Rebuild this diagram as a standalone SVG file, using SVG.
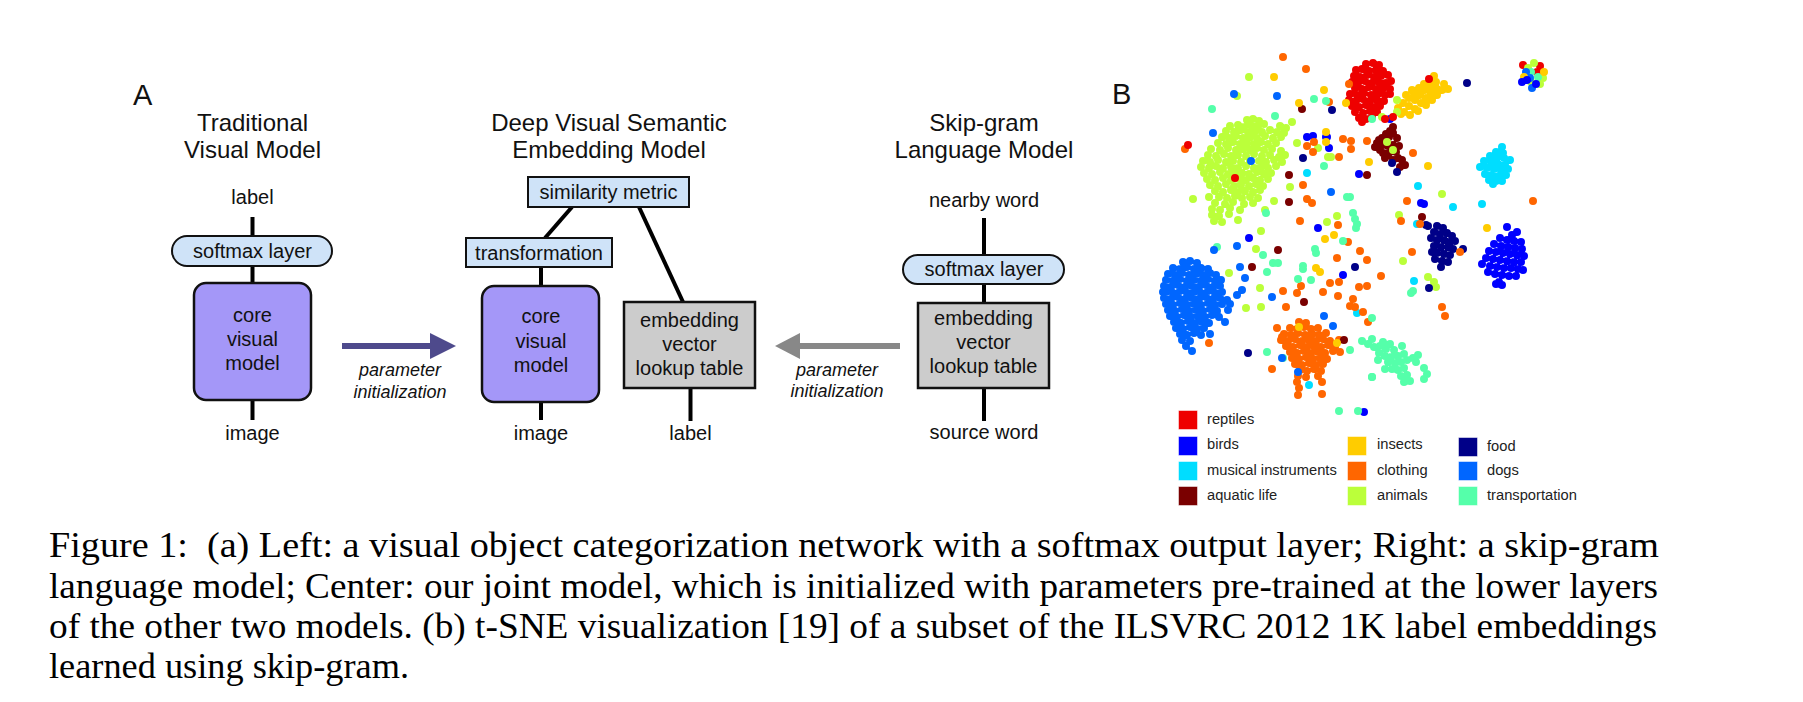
<svg xmlns="http://www.w3.org/2000/svg" width="1803" height="702" viewBox="0 0 1803 702">
<style>
text { font-family: "Liberation Sans", Arial, Helvetica, sans-serif; fill: #111; }
.t { font-size: 24px; text-anchor: middle; }
.l { font-size: 20px; text-anchor: middle; }
.p { font-size: 18px; font-style: italic; text-anchor: middle; }
.panel { font-size: 29px; }
.lg { font-size: 14.7px; fill: #222; }
.cap { font-family: "Liberation Serif", "Times New Roman", serif; font-size: 36px; fill: #000; }
.pill, .lb { fill: #cfe3f8; stroke: #111; stroke-width: 2; }
.core { fill: #a497f8; stroke: #111; stroke-width: 2.5; }
.emb { fill: #cccccc; stroke: #111; stroke-width: 2.5; }
.wire { stroke: #000; stroke-width: 4; fill: none; }
.dots path { fill: none; stroke-width: 8; stroke-linecap: round; }
.sq { stroke-width: 1; stroke-opacity: 0.5; }
.rp { fill: #ee0000; stroke: #ee0000; }
.bd { fill: #0000ff; stroke: #0000ff; }
.mu { fill: #00ddff; stroke: #00ddff; }
.aq { fill: #7a0000; stroke: #7a0000; }
.in { fill: #ffcc00; stroke: #ffcc00; }
.cl { fill: #ff6600; stroke: #ff6600; }
.an { fill: #bbff3a; stroke: #bbff3a; }
.fo { fill: #000088; stroke: #000088; }
.dg { fill: #0066ff; stroke: #0066ff; }
.tr { fill: #55ffaa; stroke: #55ffaa; }
.dots path.rp, .dots path.bd, .dots path.mu, .dots path.aq, .dots path.in, .dots path.cl, .dots path.an, .dots path.fo, .dots path.dg, .dots path.tr { fill: none; }
</style>

<text class="panel" x="133" y="105">A</text>
<text class="panel" x="1112" y="104">B</text>

<!-- connectors -->
<g id="connectors">
  <line class="wire" x1="252.5" y1="217" x2="252.5" y2="236"/>
  <line class="wire" x1="252.5" y1="266" x2="252.5" y2="283"/>
  <line class="wire" x1="252.5" y1="400" x2="252.5" y2="420"/>
  <line class="wire" x1="572" y1="207" x2="545" y2="238"/>
  <line class="wire" x1="541" y1="267" x2="541" y2="286"/>
  <line class="wire" x1="541" y1="402" x2="541" y2="420"/>
  <line class="wire" x1="639" y1="207" x2="683" y2="302"/>
  <line class="wire" x1="690.5" y1="388" x2="690.5" y2="421"/>
  <line class="wire" x1="984" y1="218" x2="984" y2="255"/>
  <line class="wire" x1="984" y1="284" x2="984" y2="303"/>
  <line class="wire" x1="984" y1="388" x2="984" y2="421"/>
  <g id="arrow-left">
    <line x1="342" y1="346" x2="432" y2="346" stroke="#4e4a8c" stroke-width="6"/>
    <polygon points="430,333 456,346 430,359" fill="#4e4a8c"/>
  </g>
  <g id="arrow-right">
    <line x1="900" y1="346" x2="798" y2="346" stroke="#888888" stroke-width="6"/>
    <polygon points="800,333 775,346 800,359" fill="#888888"/>
  </g>
</g>

<!-- left model -->
<g id="title-traditional">
  <text class="t" x="252.5" y="131">Traditional</text>
  <text class="t" x="252.5" y="158">Visual Model</text>
</g>
<g id="left-label"><text class="l" x="252.5" y="204">label</text></g>
<g id="left-softmax">
  <rect class="pill" x="172" y="236" width="160" height="30" rx="15"/>
  <text class="l" x="252.5" y="258">softmax layer</text>
</g>
<g id="left-core">
  <rect class="core" x="194" y="283" width="117" height="117" rx="12"/>
  <text class="l" x="252.5" y="322">core</text>
  <text class="l" x="252.5" y="346">visual</text>
  <text class="l" x="252.5" y="370">model</text>
</g>
<g id="left-image"><text class="l" x="252.5" y="440">image</text></g>
<g id="left-param">
  <text class="p" x="400" y="376">parameter</text>
  <text class="p" x="400" y="398">initialization</text>
</g>

<!-- center model -->
<g id="title-devise">
  <text class="t" x="609" y="131">Deep Visual Semantic</text>
  <text class="t" x="609" y="158">Embedding Model</text>
</g>
<g id="similarity">
  <rect class="lb" x="528" y="177" width="161" height="30"/>
  <text class="l" x="608.5" y="199">similarity metric</text>
</g>
<g id="transformation">
  <rect class="lb" x="466" y="238" width="146" height="29"/>
  <text class="l" x="539" y="260">transformation</text>
</g>
<g id="center-core">
  <rect class="core" x="482" y="286" width="117" height="116" rx="12"/>
  <text class="l" x="541" y="323">core</text>
  <text class="l" x="541" y="348">visual</text>
  <text class="l" x="541" y="372">model</text>
</g>
<g id="center-image"><text class="l" x="541" y="440">image</text></g>
<g id="center-embedding">
  <rect class="emb" x="624" y="302" width="131" height="86"/>
  <text class="l" x="689.5" y="327">embedding</text>
  <text class="l" x="689.5" y="351">vector</text>
  <text class="l" x="689.5" y="375">lookup table</text>
</g>
<g id="center-label"><text class="l" x="690.5" y="440">label</text></g>

<!-- right model -->
<g id="title-skipgram">
  <text class="t" x="984" y="131">Skip-gram</text>
  <text class="t" x="984" y="158">Language Model</text>
</g>
<g id="right-nearby"><text class="l" x="984" y="207">nearby word</text></g>
<g id="right-softmax">
  <rect class="pill" x="903" y="255" width="161" height="29" rx="14.5"/>
  <text class="l" x="984" y="276">softmax layer</text>
</g>
<g id="right-embedding">
  <rect class="emb" x="918" y="303" width="131" height="85"/>
  <text class="l" x="983.5" y="325">embedding</text>
  <text class="l" x="983.5" y="349">vector</text>
  <text class="l" x="983.5" y="373">lookup table</text>
</g>
<g id="right-source"><text class="l" x="984" y="439">source word</text></g>
<g id="right-param">
  <text class="p" x="837" y="376">parameter</text>
  <text class="p" x="837" y="397">initialization</text>
</g>

<!-- panel B scatter -->
<g id="scatter" class="dots">
  <path class="dg" d="M1183 262h0M1190 261h0M1197 263h0M1173 268h0M1180 269h0M1187 267h0M1194 269h0M1201 268h0M1208 269h0M1168 274h0M1175 275h0M1182 273h0M1189 275h0M1196 274h0M1203 275h0M1210 273h0M1216 275h0M1166 280h0M1173 281h0M1180 279h0M1187 281h0M1194 280h0M1201 281h0M1208 279h0M1215 281h0M1221 280h0M1164 286h0M1171 287h0M1178 285h0M1185 287h0M1192 286h0M1199 287h0M1206 285h0M1213 287h0M1220 286h0M1166 292h0M1173 293h0M1180 291h0M1187 293h0M1194 292h0M1201 293h0M1208 291h0M1215 293h0M1222 292h0M1164 298h0M1171 299h0M1178 297h0M1185 299h0M1192 298h0M1199 299h0M1206 297h0M1213 299h0M1220 298h0M1227 300h0M1166 304h0M1173 305h0M1180 303h0M1187 305h0M1194 304h0M1201 305h0M1208 303h0M1215 305h0M1222 304h0M1168 310h0M1175 311h0M1182 309h0M1189 311h0M1196 310h0M1203 311h0M1210 309h0M1217 311h0M1228 310h0M1170 316h0M1177 317h0M1184 315h0M1191 317h0M1198 316h0M1205 317h0M1212 315h0M1219 317h0M1174 322h0M1181 323h0M1188 321h0M1195 323h0M1202 322h0M1209 323h0M1225 322h0M1176 328h0M1183 329h0M1190 327h0M1197 329h0M1204 328h0M1180 334h0M1187 335h0M1194 333h0M1201 335h0M1210 334h0M1182 340h0M1190 341h0M1186 346h0M1192 351h0M1163 292h0M1230 304h0"/>
  <path class="an" d="M1247 120h0M1253 119h0M1259 121h0M1230 126h0M1238 125h0M1244 127h0M1251 125h0M1258 126h0M1264 124h0M1280 126h0M1286 128h0M1226 131h0M1234 132h0M1241 130h0M1248 132h0M1255 131h0M1262 132h0M1270 130h0M1277 132h0M1284 133h0M1222 137h0M1229 138h0M1236 136h0M1243 138h0M1250 137h0M1257 138h0M1265 136h0M1273 138h0M1281 137h0M1218 143h0M1226 144h0M1233 142h0M1240 144h0M1247 143h0M1254 144h0M1261 142h0M1268 144h0M1276 143h0M1211 149h0M1220 150h0M1228 148h0M1236 150h0M1243 149h0M1250 150h0M1257 148h0M1264 150h0M1272 149h0M1281 151h0M1208 155h0M1216 156h0M1224 154h0M1231 156h0M1238 155h0M1246 156h0M1254 154h0M1262 156h0M1270 155h0M1279 157h0M1285 155h0M1203 161h0M1210 162h0M1218 160h0M1226 162h0M1233 161h0M1241 162h0M1250 161h0M1259 161h0M1266 162h0M1274 160h0M1282 162h0M1201 167h0M1209 168h0M1216 166h0M1223 168h0M1231 167h0M1238 168h0M1246 166h0M1254 168h0M1261 167h0M1268 168h0M1276 166h0M1204 173h0M1212 174h0M1220 172h0M1228 174h0M1235 173h0M1242 173h0M1249 174h0M1257 172h0M1264 174h0M1271 173h0M1207 179h0M1215 180h0M1223 178h0M1231 180h0M1239 179h0M1246 180h0M1253 178h0M1260 180h0M1268 179h0M1210 185h0M1218 186h0M1226 184h0M1234 186h0M1241 185h0M1249 186h0M1256 184h0M1263 186h0M1215 191h0M1223 192h0M1231 190h0M1238 192h0M1245 191h0M1253 192h0M1260 190h0M1219 197h0M1227 198h0M1235 196h0M1242 198h0M1250 197h0M1258 198h0M1215 203h0M1225 204h0M1233 202h0M1244 204h0M1253 203h0M1212 209h0M1220 210h0M1230 208h0M1240 210h0M1212 215h0M1219 216h0M1229 214h0M1214 221h0M1222 222h0M1238 220h0"/>
  <path class="rp" d="M1366 64h0M1373 63h0M1379 65h0M1356 70h0M1362 69h0M1369 71h0M1376 70h0M1383 71h0M1354 76h0M1360 77h0M1367 75h0M1374 77h0M1381 76h0M1388 75h0M1352 82h0M1358 83h0M1365 81h0M1372 83h0M1379 82h0M1386 83h0M1391 81h0M1355 88h0M1362 89h0M1369 87h0M1376 89h0M1383 88h0M1390 89h0M1350 94h0M1357 95h0M1364 93h0M1371 95h0M1378 94h0M1385 95h0M1390 94h0M1349 100h0M1356 101h0M1363 99h0M1370 101h0M1377 100h0M1384 101h0M1352 106h0M1359 107h0M1366 105h0M1373 107h0M1380 106h0M1355 112h0M1363 113h0M1370 111h0M1377 112h0M1359 118h0M1366 119h0M1372 117h0M1362 122h0"/>
  <path class="in" d="M1398 108h0M1404 112h0M1410 115h0M1403 103h0M1409 106h0M1415 109h0M1409 98h0M1415 100h0M1421 103h0M1414 93h0M1420 95h0M1426 98h0M1432 100h0M1419 88h0M1425 90h0M1431 93h0M1437 95h0M1424 84h0M1430 86h0M1436 88h0M1442 90h0M1448 89h0M1430 80h0M1436 82h0M1434 76h0M1444 84h0M1412 90h0M1406 95h0M1426 105h0M1418 111h0M1401 114h0"/>
  <path class="mu" d="M1502 147h0M1496 152h0M1503 153h0M1490 156h0M1497 158h0M1504 158h0M1510 160h0M1484 161h0M1491 162h0M1498 164h0M1505 165h0M1480 167h0M1487 168h0M1494 169h0M1501 170h0M1508 169h0M1485 174h0M1492 175h0M1499 176h0M1506 175h0M1489 180h0M1496 181h0M1502 181h0M1493 184h0"/>
  <path class="bd" d="M1507 227h0M1517 232h0M1512 235h0M1500 238h0M1507 240h0M1514 241h0M1521 242h0M1494 244h0M1501 246h0M1508 247h0M1515 248h0M1522 249h0M1489 251h0M1496 252h0M1503 253h0M1510 254h0M1517 255h0M1524 256h0M1486 258h0M1493 259h0M1500 260h0M1507 261h0M1514 262h0M1521 262h0M1482 264h0M1490 266h0M1497 267h0M1504 268h0M1511 268h0M1518 269h0M1523 270h0M1488 272h0M1495 274h0M1502 275h0M1509 276h0M1516 276h0M1499 282h0M1502 285h0M1496 284h0"/>
  <path class="fo" d="M1437 226h0M1443 228h0M1434 232h0M1440 234h0M1447 233h0M1452 236h0M1431 238h0M1437 240h0M1444 240h0M1450 242h0M1455 241h0M1434 246h0M1441 247h0M1448 247h0M1453 249h0M1437 253h0M1444 254h0M1450 255h0M1435 259h0M1442 261h0M1441 267h0M1448 262h0M1432 252h0"/>
  <path class="cl" d="M1299 322h0M1306 323h0M1290 328h0M1297 329h0M1304 327h0M1311 329h0M1318 328h0M1284 334h0M1291 335h0M1298 333h0M1305 335h0M1312 334h0M1319 335h0M1326 333h0M1281 340h0M1288 341h0M1295 339h0M1302 341h0M1309 340h0M1316 341h0M1323 339h0M1330 341h0M1339 340h0M1286 346h0M1293 347h0M1300 345h0M1307 347h0M1314 346h0M1321 347h0M1328 345h0M1335 347h0M1290 352h0M1297 353h0M1304 351h0M1311 353h0M1318 352h0M1325 353h0M1333 351h0M1292 358h0M1299 359h0M1306 357h0M1313 359h0M1320 358h0M1327 359h0M1295 364h0M1302 365h0M1309 363h0M1316 365h0M1323 364h0M1300 370h0M1307 371h0M1314 369h0M1321 371h0M1298 376h0M1306 377h0M1318 376h0M1297 382h0M1322 382h0M1299 388h0M1298 395h0M1322 394h0"/>
  <path class="tr" d="M1362 341h0M1368 344h0M1374 347h0M1372 339h0M1380 346h0M1386 349h0M1383 342h0M1390 344h0M1394 350h0M1379 353h0M1385 356h0M1391 357h0M1398 356h0M1404 354h0M1402 346h0M1388 362h0M1395 363h0M1401 362h0M1407 360h0M1413 358h0M1418 355h0M1392 369h0M1398 370h0M1404 368h0M1401 376h0M1407 375h0M1404 382h0M1410 381h0M1416 362h0M1424 368h0M1427 374h0M1424 379h0M1372 377h0M1385 369h0M1378 360h0"/>
  <path class="aq" d="M1393 127h0M1393 133h0M1389 137h0M1382 138h0M1377 143h0M1375 147h0M1380 150h0M1386 134h0M1397 138h0M1399 146h0M1393 145h0M1383 153h0M1385 158h0M1388 155h0M1398 158h0M1402 160h0M1405 165h0M1400 167h0M1393 160h0M1388 146h0M1382 145h0M1396 152h0M1390 131h0M1379 140h0M1390 152h0"/>
  <!-- multi-colored cluster -->
  <path class="rp" d="M1523 65h0M1540 66h0M1537 72h0"/>
  <path class="an" d="M1534 63h0M1528 68h0M1543 78h0M1540 84h0M1531 82h0"/>
  <path class="tr" d="M1531 72h0M1538 77h0"/>
  <path class="dg" d="M1526 72h0M1532 88h0M1530 78h0"/>
  <path class="in" d="M1524 77h0M1544 72h0"/>
  <path class="bd" d="M1522 82h0M1536 84h0M1527 80h0"/>
  <!-- scattered points -->
  <path class="an" d="M1249 77h0M1237 96h0M1292 122h0M1297 143h0M1318 148h0M1328 157h0M1331 157h0M1290 187h0M1274 201h0M1265 210h0M1337 216h0M1327 222h0M1261 231h0M1193 199h0M1209 197h0M1397 100h0M1382 117h0M1397 112h0M1387 142h0M1393 150h0M1399 215h0M1442 194h0M1403 261h0M1428 277h0M1434 282h0M1436 287h0M1260 288h0M1261 307h0M1246 308h0M1229 273h0M1256 249h0"/>
  <path class="bd" d="M1307 137h0M1313 136h0M1327 137h0M1329 148h0M1359 174h0M1390 119h0M1318 228h0M1249 238h0M1343 275h0M1364 412h0M1421 203h0M1424 204h0M1326 137h0"/>
  <path class="fo" d="M1332 110h0M1303 158h0M1467 83h0M1355 267h0M1248 353h0M1429 288h0M1426 225h0M1428 226h0M1463 249h0M1392 163h0M1397 172h0"/>
  <path class="aq" d="M1302 109h0M1289 175h0M1289 202h0M1278 250h0M1252 267h0M1304 302h0M1344 340h0M1422 217h0M1367 175h0"/>
  <path class="mu" d="M1307 173h0M1418 186h0M1453 207h0M1482 204h0M1414 281h0M1357 313h0M1309 385h0M1417 224h0"/>
  <path class="cl" d="M1283 57h0M1306 69h0M1349 84h0M1329 102h0M1185 149h0M1343 139h0M1351 141h0M1351 149h0M1307 146h0M1313 152h0M1314 142h0M1339 157h0M1303 185h0M1307 199h0M1312 203h0M1300 221h0M1338 225h0M1367 141h0M1413 153h0M1533 201h0M1407 201h0M1401 221h0M1420 224h0M1460 252h0M1412 252h0M1381 276h0M1442 307h0M1445 316h0M1348 242h0M1360 251h0M1337 258h0M1367 260h0M1330 283h0M1339 282h0M1301 286h0M1297 293h0M1283 291h0M1323 292h0M1338 296h0M1359 287h0M1367 286h0M1353 299h0M1350 306h0M1355 307h0M1286 307h0M1363 312h0M1368 322h0M1209 343h0M1272 369h0M1277 328h0M1282 337h0M1340 352h0"/>
  <path class="in" d="M1274 77h0M1299 103h0M1324 90h0M1326 132h0M1326 142h0M1346 103h0M1369 162h0M1428 166h0M1487 228h0M1334 235h0M1325 239h0M1316 268h0M1320 272h0M1337 343h0M1299 327h0"/>
  <path class="tr" d="M1314 99h0M1326 101h0M1212 109h0M1275 116h0M1324 166h0M1347 197h0M1350 197h0M1266 213h0M1353 213h0M1355 219h0M1357 224h0M1356 228h0M1217 247h0M1263 255h0M1273 263h0M1278 263h0M1267 272h0M1315 249h0M1316 253h0M1343 241h0M1303 266h0M1303 269h0M1298 279h0M1311 280h0M1372 318h0M1413 291h0M1411 293h0M1267 352h0M1283 358h0M1339 411h0M1358 411h0M1372 377h0M1350 350h0M1372 119h0"/>
  <path class="rp" d="M1188 145h0M1429 79h0M1393 117h0M1385 119h0M1235 178h0"/>
  <path class="dg" d="M1214 250h0M1237 246h0M1240 267h0M1245 278h0M1237 295h0M1242 290h0M1272 297h0M1234 94h0M1213 133h0M1277 96h0M1331 192h0M1324 316h0M1333 326h0M1298 372h0M1282 358h0M1251 161h0"/>
</g>

<!-- legend -->
<g id="legend">
  <g id="lg-reptiles"><rect class="sq rp" x="1179" y="411" width="18" height="18"/><text class="lg" x="1207" y="424">reptiles</text></g>
  <g id="lg-birds"><rect class="sq bd" x="1179" y="437" width="18" height="18"/><text class="lg" x="1207" y="449">birds</text></g>
  <g id="lg-musical"><rect class="sq mu" x="1179" y="462" width="18" height="18"/><text class="lg" x="1207" y="475">musical instruments</text></g>
  <g id="lg-aquatic"><rect class="sq aq" x="1179" y="487" width="18" height="18"/><text class="lg" x="1207" y="500">aquatic life</text></g>
  <g id="lg-insects"><rect class="sq in" x="1348" y="437" width="18" height="18"/><text class="lg" x="1377" y="449">insects</text></g>
  <g id="lg-clothing"><rect class="sq cl" x="1348" y="462" width="18" height="18"/><text class="lg" x="1377" y="475">clothing</text></g>
  <g id="lg-animals"><rect class="sq an" x="1348" y="487" width="18" height="18"/><text class="lg" x="1377" y="500">animals</text></g>
  <g id="lg-food"><rect class="sq fo" x="1459" y="438" width="18" height="18"/><text class="lg" x="1487" y="451">food</text></g>
  <g id="lg-dogs"><rect class="sq dg" x="1459" y="462" width="18" height="18"/><text class="lg" x="1487" y="475">dogs</text></g>
  <g id="lg-transport"><rect class="sq tr" x="1459" y="487" width="18" height="18"/><text class="lg" x="1487" y="500">transportation</text></g>
</g>

<!-- caption -->
<g id="caption">
  <text class="cap" x="49" y="557" textLength="1610" lengthAdjust="spacingAndGlyphs" xml:space="preserve">Figure 1:  (a) Left: a visual object categorization network with a softmax output layer; Right: a skip-gram</text>
  <text class="cap" x="49" y="597.5" textLength="1609" lengthAdjust="spacingAndGlyphs">language model; Center: our joint model, which is initialized with parameters pre-trained at the lower layers</text>
  <text class="cap" x="49" y="638" textLength="1608" lengthAdjust="spacingAndGlyphs">of the other two models. (b) t-SNE visualization [19] of a subset of the ILSVRC 2012 1K label embeddings</text>
  <text class="cap" x="49" y="678" textLength="360" lengthAdjust="spacingAndGlyphs">learned using skip-gram.</text>
</g>
</svg>
